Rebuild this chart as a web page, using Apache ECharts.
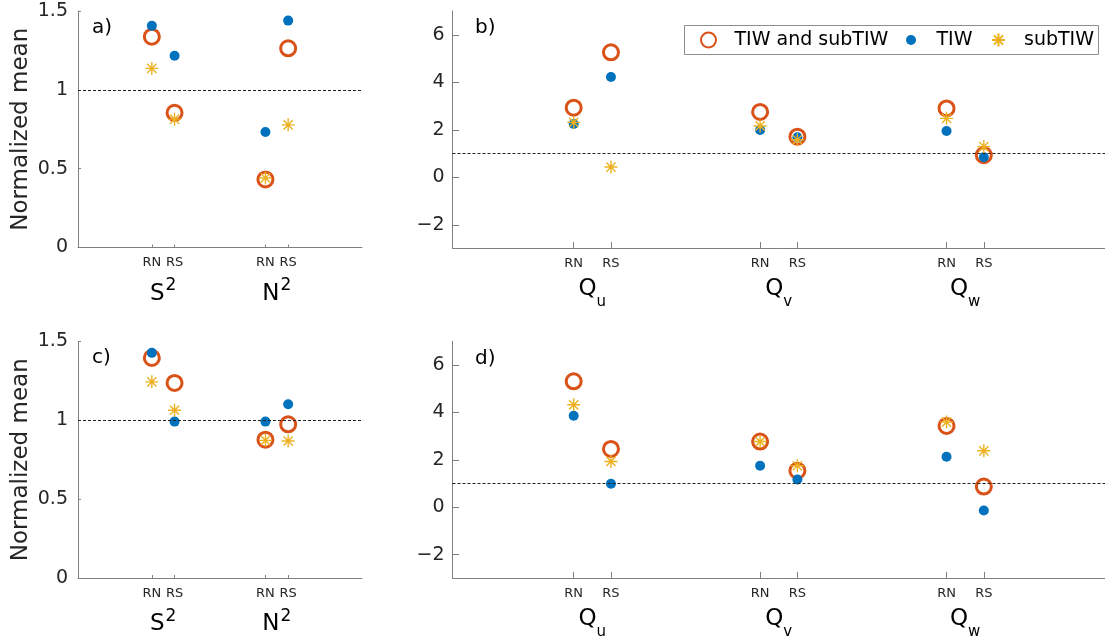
<!DOCTYPE html>
<html>
<head>
<meta charset="utf-8">
<script src="https://cdn.jsdelivr.net/npm/echarts@6/dist/echarts.min.js"></script>
<style>
  html, body { margin: 0; padding: 0; background: #ffffff; }
  #chart { width: 1105px; height: 641px; }
</style>
</head>
<body>
<div id="chart"></div>
<script>
// Station tick positions (RN / RS pairs) on each x axis
const stationPos2 = [0.65, 0.85, 1.65, 1.85];
const stationPos3 = [0.65, 0.85, 1.65, 1.85, 2.65, 2.85];
const stationNames = ['RN', 'RS'];
// Quantity group centres and their labels (base, script)
const groupPos2 = [0.75, 1.75];
const groupPos3 = [0.75, 1.75, 2.75];
const stratGroups = [['S', '2'], ['N', '2']];
const fluxGroups = [['Q', 'u'], ['Q', 'v'], ['Q', 'w']];
const seriesNames = ['TIW and subTIW', 'TIW', 'subTIW'];
const stratTicks = [0, 0.5, 1, 1.5];
const fluxTicks = [-2, 0, 2, 4, 6];
const panelLabels = ['a)', 'b)', 'c)', 'd)'];

// a) shear and stratification, upper case
const aBoth = [1.337, 0.854, 0.432, 1.263];
const aTIW  = [1.407, 1.216, 0.733, 1.439];
const aSub  = [1.136, 0.814, 0.441, 0.778];
// b) heat-flux components, upper case
const bBoth = [2.93, 5.26, 2.75, 1.71, 2.90, 0.93];
const bTIW  = [2.24, 4.22, 1.99, 1.68, 1.95, 0.84];
const bSub  = [2.31, 0.43, 2.16, 1.58, 2.48, 1.29];
// c) shear and stratification, lower case
const cBoth = [1.396, 1.237, 0.877, 0.975];
const cTIW  = [1.428, 0.992, 0.992, 1.102];
const cSub  = [1.244, 1.064, 0.873, 0.869];
// d) heat-flux components, lower case
const dBoth = [5.31, 2.46, 2.77, 1.54, 3.43, 0.87];
const dTIW  = [3.86, 0.99, 1.75, 1.17, 2.13, -0.14];
const dSub  = [4.32, 1.93, 2.77, 1.75, 3.59, 2.38];

const FONT = 'DejaVu Sans';
const AXIS_GRAY = '#808080';
const TEXT = '#262626';
const ORANGE = '#D95319';
const BLUE = '#0072BD';
const YELLOW = '#EDB120';
const STAR = 'path://M0,-10L0,10M-10,0L10,0M-7.07,-7.07L7.07,7.07M-7.07,7.07L7.07,-7.07';

const chart = echarts.init(document.getElementById('chart'), null, { renderer: 'canvas' });

const panels = [
  { grid: { left: 78, top: 11, width: 284, height: 236.5 }, xMax: 2.5, pos: stationPos2, gpos: groupPos2, groups: stratGroups, kind: 'strat', vals: [aBoth, aTIW, aSub], tick: 3, label: { left: 92, top: 18 } },
  { grid: { left: 452.5, top: 11, width: 659, height: 237.5 }, xMax: 3.5, pos: stationPos3, gpos: groupPos3, groups: fluxGroups, kind: 'flux', vals: [bBoth, bTIW, bSub], tick: 6.5, label: { left: 475, top: 18 } },
  { grid: { left: 78, top: 341.5, width: 284, height: 238 }, xMax: 2.5, pos: stationPos2, gpos: groupPos2, groups: stratGroups, kind: 'strat', vals: [cBoth, cTIW, cSub], tick: 3, label: { left: 92, top: 348 } },
  { grid: { left: 452.5, top: 341.3, width: 659, height: 237 }, xMax: 3.5, pos: stationPos3, gpos: groupPos3, groups: fluxGroups, kind: 'flux', vals: [dBoth, dTIW, dSub], tick: 6.5, label: { left: 475, top: 349 } }
];

const grids = [], xAxes = [], yAxes = [], series = [], titles = [];

panels.forEach((p, k) => {
  grids.push(p.grid);
  titles.push({
    text: panelLabels[k], left: p.label.left, top: p.label.top, padding: 0,
    textStyle: { fontFamily: FONT, fontSize: 20, fontWeight: 'normal', color: '#000' }
  });

  // station axis (RN / RS)
  xAxes.push({
    type: 'value', gridIndex: k, min: 0, max: p.xMax, position: 'bottom',
    axisLine: { show: true, onZero: false, lineStyle: { color: AXIS_GRAY, width: 1 } },
    axisTick: { show: true, inside: true, length: p.tick, customValues: p.pos, lineStyle: { color: AXIS_GRAY } },
    axisLabel: {
      show: true, customValues: p.pos, margin: 8,
      fontFamily: FONT, fontSize: 13, color: TEXT, lineHeight: 15,
      formatter: v => {
        const i = p.pos.findIndex(q => Math.abs(q - v) < 1e-6);
        return i < 0 ? '' : stationNames[i % 2];
      }
    },
    splitLine: { show: false }
  });

  // quantity axis (S², N², Q_u, ...)
  const isStrat = p.kind === 'strat';
  xAxes.push({
    type: 'value', gridIndex: k, min: 0, max: p.xMax, position: 'bottom',
    axisLine: { show: false, onZero: false },
    axisTick: { show: false },
    splitLine: { show: false },
    axisLabel: {
      show: true, customValues: p.gpos, margin: isStrat ? 31.5 : 25.5,
      formatter: v => {
        const i = p.gpos.findIndex(q => Math.abs(q - v) < 1e-6);
        if (i < 0) return '';
        const g = p.groups[i];
        return isStrat ? '{m|' + g[0] + '}{sup|' + g[1] + '}' : '{m|' + g[0] + '}{sub|' + g[1] + '}';
      },
      rich: {
        m: { fontFamily: FONT, fontSize: 23, color: '#000', lineHeight: 30, verticalAlign: 'middle' },
        sup: { fontFamily: FONT, fontSize: 17, color: '#000', lineHeight: 30, verticalAlign: 'middle', padding: [0, 0, 16, 1] },
        sub: { fontFamily: FONT, fontSize: 15, color: '#000', lineHeight: 30, verticalAlign: 'middle', padding: [26, 0, 0, 0] }
      }
    }
  });

  const yBase = {
    type: 'value', gridIndex: k,
    axisLine: { show: true, onZero: false, lineStyle: { color: AXIS_GRAY, width: 1 } },
    splitLine: { show: false }
  };
  if (isStrat) {
    yAxes.push(Object.assign(yBase, {
      min: 0, max: 1.5, interval: 0.5,
      axisTick: { show: true, inside: true, length: p.tick, lineStyle: { color: AXIS_GRAY } },
      axisLabel: { fontFamily: FONT, fontSize: 19, color: TEXT, margin: 10 },
      name: 'Normalized mean', nameLocation: 'middle', nameGap: 45, nameRotate: 90,
      nameTextStyle: { fontFamily: FONT, fontSize: 23, color: TEXT }
    }));
  } else {
    yAxes.push(Object.assign(yBase, {
      min: -3, max: 7,
      axisTick: { show: true, inside: true, length: p.tick, customValues: fluxTicks, lineStyle: { color: AXIS_GRAY } },
      axisLabel: {
        customValues: fluxTicks, fontFamily: FONT, fontSize: 19, color: TEXT, margin: 8,
        formatter: v => (v < 0 ? '\u2212' + Math.abs(v) : String(v))
      }
    }));
  }

  const xi = 2 * k;
  const pts = vals => p.pos.map((x, i) => [x, vals[i]]);

  series.push({
    name: seriesNames[0], type: 'scatter', xAxisIndex: xi, yAxisIndex: k,
    symbol: 'circle', symbolSize: 15,
    itemStyle: { color: 'rgba(255,255,255,0)', borderColor: ORANGE, borderWidth: 3, opacity: 1 },
    data: pts(p.vals[0]),
    markLine: {
      silent: true, symbol: ['none', 'none'], label: { show: false },
      lineStyle: { color: '#222', width: 1, type: [3, 2] },
      data: [{ yAxis: 1 }]
    }
  });
  series.push({
    name: seriesNames[1], type: 'scatter', xAxisIndex: xi, yAxisIndex: k,
    symbol: 'circle', symbolSize: 10,
    itemStyle: { color: BLUE, opacity: 1 },
    data: pts(p.vals[1])
  });
  series.push({
    name: seriesNames[2], type: 'scatter', xAxisIndex: xi, yAxisIndex: k,
    symbol: STAR, symbolSize: 13, symbolKeepAspect: true,
    itemStyle: { color: YELLOW, borderColor: YELLOW, borderWidth: 1.4, opacity: 1 },
    data: pts(p.vals[2])
  });
});

// one legend entry per component so each icon keeps its own size and spacing
const legendBase = {
  top: 29, orient: 'horizontal', padding: 0, selectedMode: false,
  textStyle: { fontFamily: FONT, fontSize: 19, color: '#000', lineHeight: 22 }
};
const legends = [
  Object.assign({}, legendBase, { left: 700, itemWidth: 42, itemHeight: 15, data: [seriesNames[0]] }),
  Object.assign({}, legendBase, { left: 906, itemWidth: 41, itemHeight: 10, data: [seriesNames[1]] }),
  Object.assign({}, legendBase, { left: 991, itemWidth: 41, itemHeight: 13, data: [seriesNames[2]] })
];

chart.setOption({
  animation: false,
  textStyle: { fontFamily: FONT },
  title: titles,
  grid: grids,
  xAxis: xAxes,
  yAxis: yAxes,
  legend: legends,
  graphic: [{
    type: 'rect', left: 684, top: 25, z: -1,
    shape: { width: 414, height: 29 },
    style: { fill: '#ffffff', stroke: '#8c8c8c', lineWidth: 1 }
  }],
  series: series
});
</script>
</body>
</html>
